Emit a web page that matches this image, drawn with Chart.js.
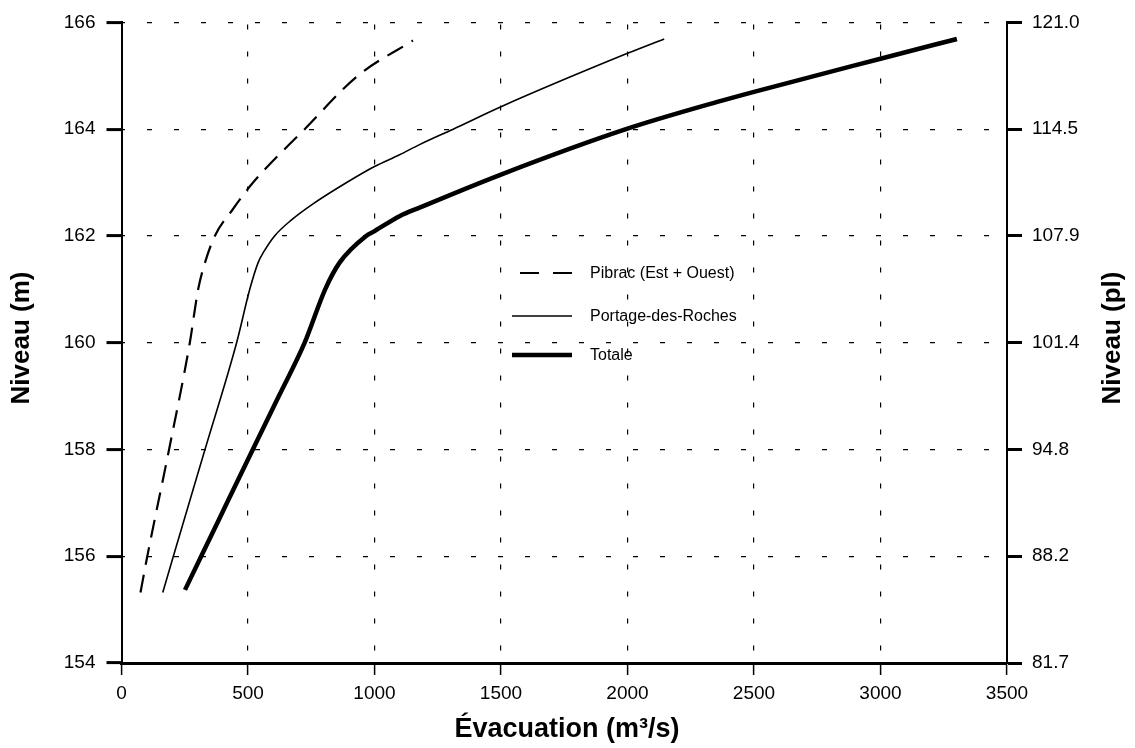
<!DOCTYPE html>
<html>
<head>
<meta charset="utf-8">
<script src="https://cdn.jsdelivr.net/npm/chart.js@4/dist/chart.umd.min.js"></script>
<style>
  html, body { margin: 0; padding: 0; background: #fff; }
</style>
</head>
<body>
<canvas id="myChart" width="1135" height="748"></canvas>
<script>
// debit (m3/s) et niveau (m)
const pibracQ = [75, 102, 188, 270, 303, 330, 369, 440, 520, 724, 934, 1152];
const pibracZ = [155.32, 156, 158, 160, 161, 161.5, 162, 162.5, 163, 164, 165, 165.66];

const portageQ = [163, 205, 330, 455, 507, 540, 562, 605, 672, 757, 890, 1000, 1099, 1178, 1311, 1500, 2000, 2145];
const portageZ = [155.32, 156, 158, 160, 161, 161.5, 161.7, 162, 162.3, 162.6, 163, 163.3, 163.52, 163.71, 164, 164.42, 165.42, 165.69];

const totaleQ = [251, 315, 417, 519, 622, 724, 805, 862, 967, 1000, 1099, 1178, 1500, 1994, 2362, 2500, 3000, 3302];
const totaleZ = [155.37, 156, 157, 158, 159, 160, 161, 161.5, 162, 162.09, 162.37, 162.53, 163.15, 164, 164.52, 164.7, 165.32, 165.69];

const seriesNames = ['Pibrac (Est + Ouest)', 'Portage-des-Roches', 'Totale'];
const leftTicks = [154, 156, 158, 160, 162, 164, 166];
const rightTicks = ['81.7', '88.2', '94.8', '101.4', '107.9', '114.5', '121.0'];
const xTitle = 'Évacuation (m³/s)';
const yTitle = 'Niveau (m)';
const y2Title = 'Niveau (pl)';

Chart.defaults.font.family = '"Liberation Sans", Arial, sans-serif';
Chart.defaults.color = '#000';

const toPoints = (qs, zs) => qs.map((q, i) => ({ x: q, y: zs[i] }));

// legende dans la zone du graphique
const legendBox = {
  id: 'legendBox',
  afterDraw(chart) {
    const ctx = chart.ctx;
    const rows = [273, 316, 355];
    ctx.save();
    chart.data.datasets.forEach((ds, i) => {
      const y = rows[i];
      ctx.beginPath();
      ctx.lineWidth = ds.borderWidth;
      ctx.strokeStyle = '#000';
      if (ds.borderDash) {
        ctx.setLineDash([19, 14]);
        ctx.moveTo(520, y);
      } else {
        ctx.setLineDash([]);
        ctx.moveTo(512, y);
      }
      ctx.lineTo(572, y);
      ctx.stroke();
      ctx.setLineDash([]);
      ctx.fillStyle = '#000';
      ctx.font = '16px "Liberation Sans", Arial, sans-serif';
      ctx.textBaseline = 'middle';
      ctx.textAlign = 'left';
      ctx.fillText(ds.label, 590, y + 1);
    });
    ctx.restore();
  }
};

// titres des axes (le titre de droite se lit de bas en haut)
const axisTitles = {
  id: 'axisTitles',
  afterDraw(chart) {
    const ctx = chart.ctx;
    ctx.save();
    ctx.fillStyle = '#000';
    ctx.font = 'bold 27px "Liberation Sans", Arial, sans-serif';
    ctx.textAlign = 'center';
    ctx.textBaseline = 'middle';
    ctx.fillText(xTitle, 567, 730);
    ctx.font = 'bold 26px "Liberation Sans", Arial, sans-serif';
    [[22, yTitle], [1113, y2Title]].forEach(([x, t]) => {
      ctx.save();
      ctx.translate(x, 338);
      ctx.rotate(-Math.PI / 2);
      ctx.fillText(t, 0, 0);
      ctx.restore();
    });
    ctx.restore();
  }
};

const ctx = document.getElementById('myChart').getContext('2d');
const chart = new Chart(ctx, {
  type: 'line',
  data: {
    datasets: [
      { label: seriesNames[0], data: toPoints(pibracQ, pibracZ), borderColor: '#000', borderWidth: 2.2, borderDash: [18, 10] },
      { label: seriesNames[1], data: toPoints(portageQ, portageZ), borderColor: '#000', borderWidth: 1.6 },
      { label: seriesNames[2], data: toPoints(totaleQ, totaleZ), borderColor: '#000', borderWidth: 4.5 }
    ]
  },
  options: {
    responsive: false,
    animation: false,
    devicePixelRatio: 1,
    layout: { padding: { top: 19, left: 0, right: 0, bottom: 0 } },
    elements: { point: { radius: 0 }, line: { cubicInterpolationMode: 'monotone', fill: false } },
    plugins: { legend: { display: false }, tooltip: { enabled: false } },
    scales: {
      x: {
        type: 'linear', position: 'bottom', min: 0, max: 3500,
        ticks: { stepSize: 500, padding: 7, font: { size: 19 }, callback: v => String(v) },
        grid: { color: '#000', lineWidth: 1.2, tickLength: 12, tickWidth: 1.5, tickColor: '#000', tickBorderDash: [] },
        border: { color: '#000', width: 3, dash: [5, 22], dashOffset: 25 },
        afterFit: s => { s.height = 85; }
      },
      y: {
        type: 'linear', position: 'left', min: 154, max: 166,
        afterBuildTicks: s => { s.ticks = leftTicks.map(v => ({ value: v })); },
        ticks: { padding: 11, font: { size: 19 } },
        grid: { color: '#000', lineWidth: 1.2, tickLength: 15, tickWidth: 3, tickColor: '#000', tickBorderDash: [] },
        border: { color: '#000', width: 2, dash: [5, 22], dashOffset: 3 },
        afterFit: s => { s.width = 121.5; }
      },
      y2: {
        type: 'linear', position: 'right', min: 154, max: 166,
        afterBuildTicks: s => { s.ticks = leftTicks.map(v => ({ value: v })); },
        ticks: { padding: 10, font: { size: 19 }, callback: (v, i) => rightTicks[i] },
        grid: { drawOnChartArea: false, color: '#000', tickLength: 15, tickWidth: 3, tickColor: '#000' },
        border: { color: '#000', width: 2 },
        afterFit: s => { s.width = 128; }
      }
    }
  },
  plugins: [legendBox, axisTitles]
});
</script>
</body>
</html>
